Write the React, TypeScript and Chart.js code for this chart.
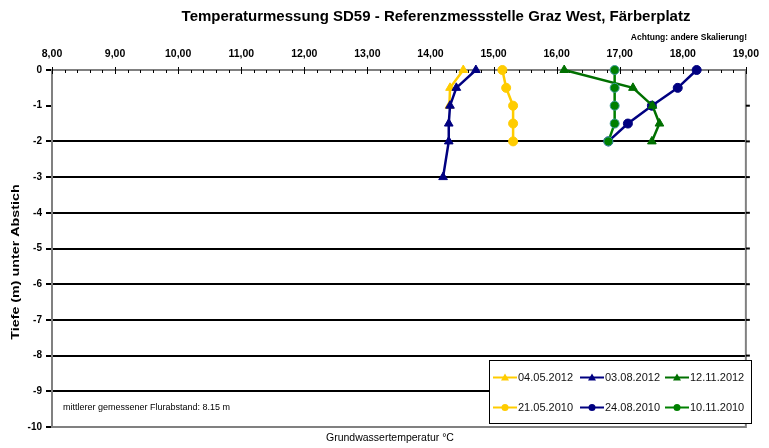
import React, { useEffect, useRef } from "react";
import { Chart, registerables } from "chart.js";

Chart.register(...registerables);

const chartTitle = "Temperaturmessung SD59 - Referenzmessstelle Graz West, Färberplatz";
const noteScale = "Achtung: andere Skalierung!";
const noteDepth = "mittlerer gemessener Flurabstand: 8.15 m";
const xAxisTitle = "Grundwassertemperatur °C";
const yAxisTitle = "Tiefe (m) unter Abstich";

const seriesLabels = ["04.05.2012", "03.08.2012", "12.11.2012", "21.05.2010", "24.08.2010", "10.11.2010"];

const depths_04_05_2012 = [0, -0.5, -1];
const temps_04_05_2012 = [14.52, 14.31, 14.3];
const depths_03_08_2012 = [0, -0.5, -1, -1.5, -2, -3];
const temps_03_08_2012 = [14.72, 14.41, 14.31, 14.29, 14.29, 14.2];
const depths_12_11_2012 = [0, -0.5, -1, -1.5, -2];
const temps_12_11_2012 = [16.12, 17.21, 17.52, 17.63, 17.51];
const depths_2010 = [0, -0.5, -1, -1.5, -2];
const temps_21_05_2010 = [15.14, 15.2, 15.31, 15.31, 15.31];
const temps_24_08_2010 = [18.22, 17.92, 17.51, 17.13, 16.82];
const temps_10_11_2010 = [16.92, 16.92, 16.92, 16.92, 16.82];

const xMin = 8;
const xMax = 19;
const yMin = -10;
const yMax = 0;

const FONT = "'Liberation Sans', Arial, sans-serif";

function pts(xs: number[], ys: number[]) {
  return xs.map((x, i) => ({ x, y: ys[i] }));
}

const YELLOW = "#FFCC00";
const NAVY = "#000080";
const GREEN12 = "#007000";
const GREEN10 = "#008000";
const TEAL = "#3A9A9A";

const seriesStyles = [
  { color: YELLOW, border: YELLOW, shape: "triangle", r: 5 },
  { color: NAVY, border: NAVY, shape: "triangle", r: 5 },
  { color: GREEN12, border: GREEN12, shape: "triangle", r: 5 },
  { color: YELLOW, border: YELLOW, shape: "circle", r: 4.5 },
  { color: NAVY, border: NAVY, shape: "circle", r: 4.5 },
  { color: GREEN10, border: TEAL, shape: "circle", r: 4.5 },
];

const seriesData = [
  pts(temps_04_05_2012, depths_04_05_2012),
  pts(temps_03_08_2012, depths_03_08_2012),
  pts(temps_12_11_2012, depths_12_11_2012),
  pts(temps_21_05_2010, depths_2010),
  pts(temps_24_08_2010, depths_2010),
  pts(temps_10_11_2010, depths_2010),
];

const drawOrder = [5, 4, 2, 6, 3, 1];

const decorPlugin = {
  id: "decor",
  beforeDraw(chart: any) {
    const ctx = chart.ctx;
    ctx.save();
    ctx.fillStyle = "#fff";
    ctx.fillRect(0, 0, chart.width, chart.height);
    ctx.restore();
  },
  beforeDatasetsDraw(chart: any) {
    const ctx = chart.ctx;
    const a = chart.chartArea;
    const xs = chart.scales.x;
    ctx.save();
    ctx.strokeStyle = "#808080";
    ctx.lineWidth = 2;
    ctx.strokeRect(a.left, a.top, a.right - a.left, a.bottom - a.top);
    ctx.strokeStyle = "#000";
    ctx.lineWidth = 1;
    for (let i = 0; i <= (xMax - xMin) * 5; i++) {
      const v = xMin + i / 5;
      const px = Math.round(xs.getPixelForValue(v)) + 0.5;
      ctx.beginPath();
      if (i % 5 === 0) {
        ctx.moveTo(px, a.top - 3);
        ctx.lineTo(px, a.top + 4);
      } else {
        ctx.moveTo(px, a.top);
        ctx.lineTo(px, a.top + 3);
      }
      ctx.stroke();
    }
    ctx.restore();
  },
  afterDraw(chart: any) {
    const ctx = chart.ctx;
    const a = chart.chartArea;
    const ys = chart.scales.y;
    ctx.save();
    // right ticks
    ctx.strokeStyle = "#000";
    ctx.lineWidth = 2;
    for (let v = yMin + 1; v < yMax; v++) {
      const py = ys.getPixelForValue(v);
      ctx.beginPath();
      ctx.moveTo(a.right, py);
      ctx.lineTo(a.right + 4, py);
      ctx.stroke();
    }
    // legend box
    const lx = 489, ly = 360, lw = 263, lh = 64;
    ctx.fillStyle = "#fff";
    ctx.fillRect(lx, ly, lw, lh);
    ctx.strokeStyle = "#000";
    ctx.lineWidth = 1;
    ctx.strokeRect(lx + 0.5, ly + 0.5, lw - 1, lh - 1);
    const colX = [493, 580, 665];
    const rowY = [377.5, 407.5];
    ctx.font = `11px ${FONT}`;
    ctx.textBaseline = "middle";
    ctx.textAlign = "left";
    seriesLabels.forEach((lab, i) => {
      const st = seriesStyles[i];
      const x0 = colX[i % 3];
      const y0 = rowY[Math.floor(i / 3)];
      ctx.strokeStyle = st.color;
      ctx.lineWidth = 2;
      ctx.beginPath();
      ctx.moveTo(x0, y0);
      ctx.lineTo(x0 + 24, y0);
      ctx.stroke();
      const cx = x0 + 12;
      ctx.fillStyle = st.color;
      ctx.beginPath();
      if (st.shape === "triangle") {
        ctx.moveTo(cx, y0 - 4);
        ctx.lineTo(cx + 4, y0 + 3);
        ctx.lineTo(cx - 4, y0 + 3);
        ctx.closePath();
      } else {
        ctx.arc(cx, y0, 3.5, 0, Math.PI * 2);
      }
      ctx.fill();
      ctx.fillStyle = "#111";
      ctx.fillText(lab, x0 + 25, y0 + 0.5);
    });
    // texts
    ctx.fillStyle = "#000";
    ctx.textAlign = "center";
    ctx.textBaseline = "middle";
    ctx.font = `bold 15px ${FONT}`;
    ctx.fillText(chartTitle, 436, 17);
    ctx.textAlign = "right";
    ctx.font = `bold 8.5px ${FONT}`;
    ctx.fillText(noteScale, 747, 38);
    ctx.textAlign = "left";
    ctx.font = `9px ${FONT}`;
    ctx.fillText(noteDepth, 63, 408);
    ctx.font = `10.5px ${FONT}`;
    ctx.fillText(xAxisTitle, 326, 438);
    // y title
    ctx.save();
    ctx.translate(16, 262);
    ctx.rotate(-Math.PI / 2);
    ctx.scale(1.3, 1);
    ctx.font = `bold 11px ${FONT}`;
    ctx.textAlign = "center";
    ctx.fillText(yAxisTitle, 0, 0);
    ctx.restore();
    ctx.restore();
  },
};

export default function App() {
  const ref = useRef<HTMLCanvasElement | null>(null);
  useEffect(() => {
    if (!ref.current) return;
    const chart = new Chart(ref.current, {
      type: "scatter",
      data: {
        datasets: seriesLabels.map((label, i) => {
          const st = seriesStyles[i];
          return {
            label,
            data: seriesData[i],
            showLine: true,
            clip: false,
            borderColor: st.color,
            backgroundColor: st.color,
            borderWidth: 2.5,
            pointStyle: st.shape,
            pointRadius: st.r,
            pointBackgroundColor: st.color,
            pointBorderColor: st.border,
            pointBorderWidth: 1,
            order: drawOrder[i],
          };
        }),
      },
      plugins: [decorPlugin],
      options: {
        responsive: false,
        animation: false,
        devicePixelRatio: 1,
        layout: { padding: { left: 0, right: 17, top: 0, bottom: 21 } },
        plugins: {
          legend: { display: false },
          tooltip: { enabled: false },
          title: { display: false },
        },
        scales: {
          x: {
            type: "linear",
            position: "top",
            min: xMin,
            max: xMax,
            afterFit: (s: any) => {
              s.height = 70;
            },
            ticks: {
              stepSize: 1,
              padding: 10,
              color: "#000",
              font: { family: FONT, size: 10.5, weight: "bold" },
              maxRotation: 0,
              autoSkip: false,
              callback: (v: any) => Number(v).toFixed(2).replace(".", ","),
            },
            grid: { display: true, drawOnChartArea: false, drawTicks: false },
            border: { display: true, color: "#808080", width: 2 },
          },
          y: {
            type: "linear",
            min: yMin,
            max: yMax,
            afterFit: (s: any) => {
              s.width = 52;
            },
            ticks: {
              stepSize: 1,
              padding: 4,
              color: "#000",
              font: { family: FONT, size: 10, weight: "bold" },
            },
            grid: {
              display: true,
              drawOnChartArea: true,
              tickLength: 6,
              lineWidth: 2,
              tickWidth: 2,
              tickColor: "#000",
              color: (c: any) => {
                const v = c.tick ? c.tick.value : 0;
                return v <= -2 && v >= -9 ? "#000" : "rgba(0,0,0,0)";
              },
            },
            border: { display: true, color: "#808080", width: 2 },
          },
        },
      },
    } as any);
    return () => chart.destroy();
  }, []);
  return (
    <div style={{ position: "absolute", left: 0, top: 0, width: 769, height: 448 }}>
      <canvas ref={ref} width={769} height={448} style={{ display: "block" }} />
    </div>
  );
}
